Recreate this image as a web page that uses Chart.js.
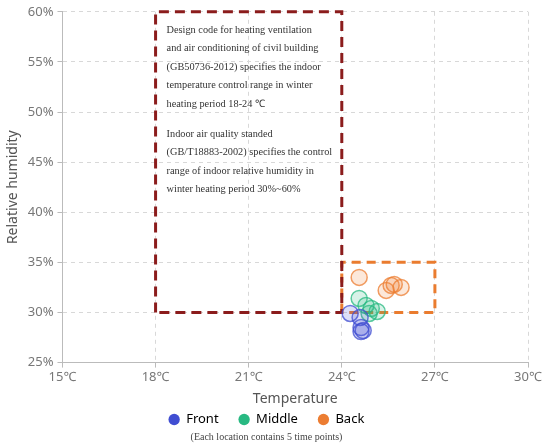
<!DOCTYPE html>
<html>
<head>
<meta charset="utf-8">
<script src="https://cdn.jsdelivr.net/npm/chart.js@4"></script>
<style>
    body { margin: 0; background: #fff; }
    #wrap { width: 550px; height: 447px; }
</style>
</head>
<body>
<div id="wrap"><canvas id="rhCanvas"></canvas></div>
<script>
// temperature (°C) / relative humidity (%) readings, 5 time points per location
const frontTemp = [24.27, 24.59, 24.62, 24.69, 24.62];
const frontRh = [29.9, 29.5, 28.5, 28.2, 28.1];
const middleTemp = [24.56, 24.78, 24.95, 25.14, 24.88];
const middleRh = [31.4, 30.7, 30.4, 30.1, 29.9];
const backTemp = [24.56, 25.43, 25.59, 25.69, 25.91];
const backRh = [33.5, 32.2, 32.7, 32.8, 32.5];

// standard ranges drawn as dashed boxes
const heatingTempRange = [18, 24];
const heatingRhRange = [30, 60];
const measuredTempRange = [24, 27];
const measuredRhRange = [30, 35];

const xTicks = [15, 18, 21, 24, 27, 30];
const yTicks = [25, 30, 35, 40, 45, 50, 55, 60];

const noteLines1 = [
    "Design code for heating ventilation",
    "and air conditioning of civil building",
    "(GB50736-2012) specifies the indoor",
    "temperature control range in winter",
    "heating period 18-24 \u2103",
];
const noteLines2 = [
    "Indoor air quality standed",
    "(GB/T18883-2002) specifies the control",
    "range of indoor relative humidity in",
    "winter heating period 30%~60%",
];
const caption = "(Each location contains 5 time points)";

function toPoints(xs, ys) {
    return xs.map((x, i) => ({ x: x, y: ys[i] }));
}
function boxPoints(xr, yr) {
    return [
        { x: xr[0], y: yr[0] },
        { x: xr[0], y: yr[1] },
        { x: xr[1], y: yr[1] },
        { x: xr[1], y: yr[0] },
        { x: xr[0], y: yr[0] },
    ];
}
function pointSet(label, data, rgb) {
    return {
        label: label,
        data: data,
        pointRadius: 8,
        pointHoverRadius: 8,
        borderWidth: 1.5,
        backgroundColor: `rgba(${rgb}, 0.18)`,
        borderColor: `rgba(${rgb}, 0.75)`,
        legendColor: `rgb(${rgb})`,
    };
}
function boxSet(data, color, dash) {
    return {
        type: "line",
        label: "",
        data: data,
        showLine: true,
        borderColor: color,
        borderWidth: 3,
        borderDash: dash,
        pointRadius: 0,
        fill: false,
        clip: false,
        order: 5,
    };
}

// standards text inside the red box + caption under the legend
const notePlugin = {
    id: "note",
    afterDatasetsDraw(chart) {
        const ctx = chart.ctx;
        const xs = chart.scales.x;
        const ys = chart.scales.y;
        const left = xs.getPixelForValue(heatingTempRange[0]) + 11;
        let top = ys.getPixelForValue(heatingRhRange[1]) + 18;
        ctx.save();
        ctx.fillStyle = "#333";
        ctx.font = "10.3px 'Liberation Serif'";
        ctx.textBaseline = "middle";
        noteLines1.forEach((line) => {
            ctx.fillText(line, left, top);
            top += 18.6;
        });
        top += 11;
        noteLines2.forEach((line) => {
            ctx.fillText(line, left, top);
            top += 18.6;
        });
        ctx.restore();
    },
    afterDraw(chart) {
        const ctx = chart.ctx;
        const lg = chart.legend;
        ctx.save();
        ctx.fillStyle = "#444";
        ctx.font = "10px 'Liberation Serif'";
        ctx.textAlign = "center";
        ctx.textBaseline = "middle";
        ctx.fillText(caption, (lg.left + lg.right) / 2, lg.top + 44);
        ctx.restore();
    },
};

const data = {
    datasets: [
        boxSet(boxPoints(heatingTempRange, heatingRhRange), "#8b1c1c", [10, 6]),
        boxSet(boxPoints(measuredTempRange, measuredRhRange), "#ea7c2f", [9, 6]),
        pointSet("Front", toPoints(frontTemp, frontRh), "64, 78, 210"),
        pointSet("Middle", toPoints(middleTemp, middleRh), "40, 185, 130"),
        pointSet("Back", toPoints(backTemp, backRh), "236, 125, 50"),
    ],
};

const tickFont = { family: "'Noto Sans'", size: 13 };
const config = {
    type: "scatter",
    data: data,
    options: {
        responsive: true,
        maintainAspectRatio: false,
        animation: false,
        layout: { padding: { top: 9, right: 22, left: 5, bottom: 11 } },
        plugins: {
            legend: {
                position: "bottom",
                labels: {
                    usePointStyle: true,
                    pointStyle: "circle",
                    boxWidth: 11,
                    boxHeight: 8,
                    padding: 20,
                    color: "#555",
                    font: { family: "'Noto Sans'", size: 13 },
                    filter: (item) => item.text !== "",
                    generateLabels: (chart) =>
                        chart.data.datasets.map((ds, i) => ({
                            text: ds.label,
                            fillStyle: ds.legendColor,
                            strokeStyle: ds.legendColor,
                            lineWidth: 0,
                            pointStyle: "circle",
                            datasetIndex: i,
                        })),
                },
            },
            tooltip: { enabled: false },
        },
        scales: {
            x: {
                type: "linear",
                min: 15,
                max: 30,
                afterBuildTicks: (axis) => {
                    axis.ticks = xTicks.map((v) => ({ value: v }));
                },
                ticks: {
                    color: "#777",
                    font: tickFont,
                    padding: 2,
                    callback: (v) => v + "\u2103",
                },
                grid: { color: "#d8d8d8", tickColor: "#bbb", tickLength: 5 },
                border: { color: "#bbb", width: 1, dash: [4, 4] },
                title: {
                    display: true,
                    text: "Temperature",
                    color: "#555",
                    font: { family: "'Noto Sans'", size: 14 },
                    // negative bottom lets the legend padding sit under the title
                    padding: { top: 3, bottom: -14 },
                },
            },
            y: {
                min: 25,
                max: 60,
                afterBuildTicks: (axis) => {
                    axis.ticks = yTicks.map((v) => ({ value: v }));
                },
                ticks: {
                    color: "#777",
                    font: tickFont,
                    padding: 4,
                    callback: (v) => v + "%",
                },
                grid: { color: "#d8d8d8", tickColor: "#bbb", tickLength: 5 },
                border: { color: "#bbb", width: 1, dash: [4, 4] },
                title: {
                    display: true,
                    text: "Relative humidity",
                    color: "#555",
                    font: { family: "'Noto Sans'", size: 14 },
                    padding: { top: 0, bottom: 2 },
                },
            },
        },
    },
    plugins: [notePlugin],
};

const rhChart = new Chart(document.getElementById("rhCanvas"), config);
</script>
</body>
</html>
